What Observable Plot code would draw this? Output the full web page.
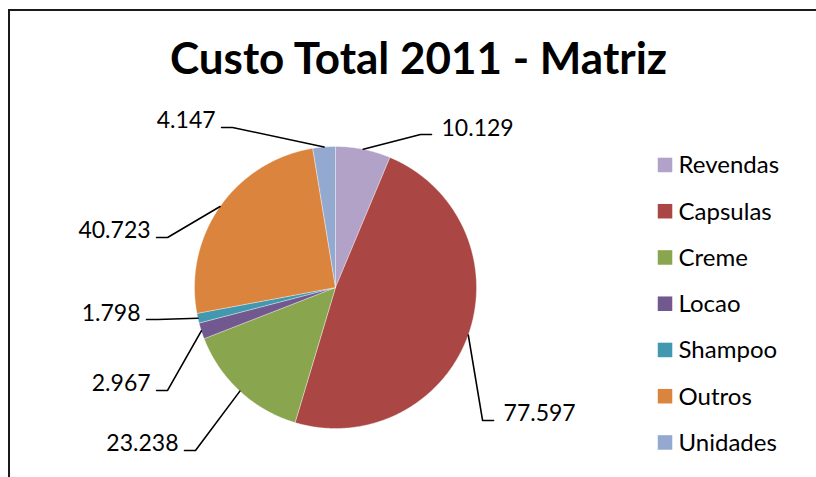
<!DOCTYPE html>
<html>
<head>
<meta charset="utf-8">
<script src="https://cdn.jsdelivr.net/npm/d3@7"></script>
<script src="https://cdn.jsdelivr.net/npm/@observablehq/plot@0.6"></script>
<style>
  html, body { margin: 0; padding: 0; background: #fff; overflow: hidden; width: 816px; height: 477px; }
  #frame { position: absolute; left: 8px; top: 9px; width: 900px; height: 600px;
           border-left: 2px solid #1a1a1a; border-top: 2px solid #1a1a1a; }
  #title { position: relative; height: 89px; }
  #title span { position: absolute; left: 0; width: 817px; top: 24px; text-align: center;
                font-family: Lato, sans-serif; font-weight: 700; font-size: 44px; line-height: 1; color: #000; white-space: nowrap; }
  #chart svg { display: block; }
</style>
</head>
<body>
<div id="frame">
  <div id="title"><span>Custo Total 2011 - Matriz</span></div>
  <div id="chart"></div>
</div>
<script>
// ---- data ----
const names  = ["Revendas", "Capsulas", "Creme", "Locao", "Shampoo", "Outros", "Unidades"];
const values = [10129, 77597, 23238, 2967, 1798, 40723, 4147];
const colors = ["#B3A2C7", "#AA4643", "#89A54E", "#71588F", "#4198AF", "#DB843D", "#93A9CF"];

// ---- layout (pie units: 1 = radius) ----
const W = 806, H = 377, CX = 325, CY = 187, R = 141;
const labelElbows = [[0.603, 1.085], [1.043, -0.943], [-0.993, -1.156], [-1.191, -0.730],
                     [-1.262, -0.227], [-1.191, 0.355], [-0.730, 1.135]];
const legendX = 2.337, legendTextX = 2.433, legendTop = 0.869, legendStep = 0.328;

const fmt = d3.formatLocale({decimal: ",", thousands: ".", grouping: [3], currency: ["", ""]}).format(",d");

const arcs = d3.pie().sort(null).startAngle(0).endAngle(2 * Math.PI)(values);

// slice polygons
const slicePts = [];
arcs.forEach((a, i) => {
  const n = Math.max(2, Math.ceil((a.endAngle - a.startAngle) / (Math.PI / 360)));
  slicePts.push({name: names[i], u: 0, v: 0});
  for (let k = 0; k <= n; k++) {
    const t = a.startAngle + (a.endAngle - a.startAngle) * k / n;
    slicePts.push({name: names[i], u: Math.sin(t), v: Math.cos(t)});
  }
  slicePts.push({name: names[i], u: 0, v: 0});
});

// leader lines and labels
const leaderPts = [], labelsRight = [], labelsLeft = [];
arcs.forEach((a, i) => {
  const mid = (a.startAngle + a.endAngle) / 2;
  const [eu, ev] = labelElbows[i];
  const side = eu < 0 ? -1 : 1;
  const endU = eu + side * 11 / R;
  leaderPts.push({name: names[i], u: Math.sin(mid), v: Math.cos(mid)});
  leaderPts.push({name: names[i], u: eu, v: ev});
  leaderPts.push({name: names[i], u: endU, v: ev});
  const lab = {name: names[i], u: endU + side * (side > 0 ? 10 : 6) / R, v: ev, text: fmt(values[i])};
  (side > 0 ? labelsRight : labelsLeft).push(lab);
});

const legend = names.map((n, i) => ({name: n, y: legendTop - legendStep * i}));

const chart = Plot.plot({
  width: W, height: H, margin: 0,
  x: {domain: [-CX / R, (W - CX) / R], axis: null},
  y: {domain: [-(H - CY) / R, CY / R], axis: null},
  color: {domain: names, range: colors},
  style: {fontFamily: "Lato, sans-serif", fontSize: "23px", background: "transparent", color: "#000"},
  marks: [
    Plot.line(slicePts, {x: "u", y: "v", z: "name", fill: "name", stroke: "#fff", strokeWidth: 0.6, strokeOpacity: 0.6, curve: "linear-closed"}),
    Plot.line(leaderPts, {x: "u", y: "v", z: "name", stroke: "#000", strokeWidth: 1.6}),
    Plot.text(labelsRight, {x: "u", y: "v", text: "text", textAnchor: "start", lineAnchor: "bottom", dy: 1, fill: "#000"}),
    Plot.text(labelsLeft, {x: "u", y: "v", text: "text", textAnchor: "end", lineAnchor: "bottom", dy: 1, fill: "#000"}),
    Plot.dot(legend, {x: legendX, y: "y", fill: "name", symbol: "square", r: 8.2, stroke: null}),
    Plot.text(legend, {x: legendTextX, y: "y", text: "name", textAnchor: "start", lineAnchor: "bottom", dy: 8.5, fill: "#000", fontSize: 24})
  ]
});
document.getElementById("chart").appendChild(chart);
</script>
</body>
</html>
